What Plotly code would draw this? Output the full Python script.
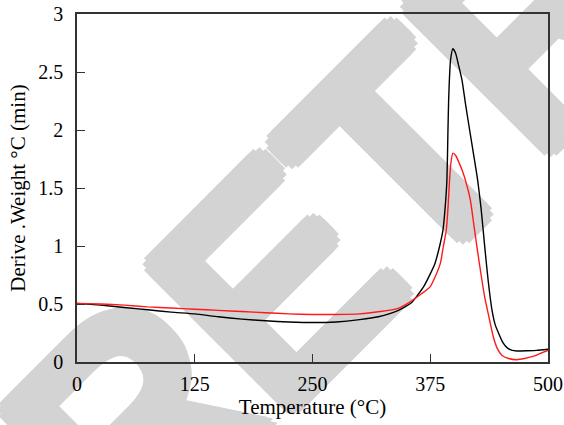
import math
import plotly.graph_objects as go

# Black curve (temperature °C, derivative weight)
t_black = [0, 25, 50, 75, 100, 125, 150, 175, 200, 225, 250, 275, 300, 320, 340, 355, 368, 375, 380, 385,
           388.5, 391, 392.7, 393.8, 394.5, 395.3, 396.5, 399, 402, 405, 408.7, 412.5, 416.8, 421, 425.3,
           429, 433, 436.5, 440.5, 444, 448, 452, 456.5, 462, 467, 478, 488, 500]
v_black = [0.505, 0.49, 0.47, 0.45, 0.43, 0.415, 0.39, 0.37, 0.355, 0.345, 0.34, 0.345, 0.365, 0.39, 0.44,
           0.51, 0.65, 0.76, 0.85, 1.0, 1.136, 1.35, 1.57, 2.0, 2.25, 2.43, 2.6, 2.70, 2.66, 2.56, 2.43,
           2.22, 2.0, 1.79, 1.57, 1.32, 0.98, 0.70, 0.45, 0.32, 0.24, 0.17, 0.124, 0.10, 0.095, 0.097,
           0.10, 0.11]

# Red curve
t_red = [0, 25, 50, 75, 100, 125, 150, 175, 200, 225, 250, 275, 300, 322, 340, 352, 366, 375, 380, 385.7,
         389, 392, 394, 395.5, 397, 399, 402, 406, 409, 412.2, 417.5, 421, 424.6, 429, 433, 437, 442, 446,
         451, 458, 467, 475, 485, 492, 500]
v_red = [0.505, 0.50, 0.49, 0.475, 0.465, 0.455, 0.445, 0.435, 0.425, 0.415, 0.41, 0.41, 0.415, 0.435,
         0.46, 0.51, 0.59, 0.65, 0.73, 0.85, 1.0, 1.136, 1.35, 1.57, 1.72, 1.80, 1.78, 1.71, 1.65, 1.57,
         1.40, 1.20, 0.99, 0.75, 0.55, 0.40, 0.215, 0.12, 0.058, 0.03, 0.02, 0.03, 0.05, 0.075, 0.10]

x_ticks = [0, 125, 250, 375, 500]
y_ticks = [0, 0.5, 1, 1.5, 2, 2.5, 3]
y_tick_text = ["0", "0.5", "1", "1.5", "2", "2.5", "3"]

watermark_text = "RETRACTED"

SERIF = "Liberation Serif"
PW, PH = 471.0, 347.7  # plot area size in px

fig = go.Figure()
fig.add_trace(go.Scatter(x=t_black, y=v_black, mode="lines",
                         line=dict(color="black", width=1.4, shape="spline", smoothing=0.5),
                         showlegend=False))
fig.add_trace(go.Scatter(x=t_red, y=v_red, mode="lines",
                         line=dict(color="#ff1a1a", width=1.4, shape="spline", smoothing=0.5),
                         showlegend=False))

# watermark (heavy letters made by stacking slightly shifted copies)
x0, y0, x1, y1 = 0.1643, -0.6506, 1.2259, 0.7875
R = 12
offsets = [(0, 0)] + [(R * math.cos(a * math.pi / 6), R * math.sin(a * math.pi / 6)) for a in range(12)]
for dx, dy in offsets:
    ox, oy = dx / PW, -dy / PH
    fig.add_shape(type="line", xref="paper", yref="paper",
                  x0=x0 + ox, y0=y0 + oy, x1=x1 + ox, y1=y1 + oy,
                  line=dict(color="rgba(0,0,0,0)", width=0), layer="below",
                  label=dict(text=watermark_text, textposition="start", padding=0,
                             font=dict(family="Liberation Sans", size=285, color="#d3d3d3")))

fig.update_layout(
    width=564, height=425,
    margin=dict(l=76.7, r=16.3, t=14, b=63.3),
    paper_bgcolor="rgba(0,0,0,0)", plot_bgcolor="rgba(0,0,0,0)",
    font=dict(family=SERIF, size=20, color="black"),
)
fig.update_xaxes(range=[0, 500], tickvals=x_ticks, ticks="inside", ticklen=8, tickcolor="#333",
                 showline=True, linecolor="#333", linewidth=1.5, mirror=True, showgrid=False,
                 zeroline=False, ticklabelstandoff=3, automargin=False,
                 title=dict(text="Temperature (°C)", font=dict(size=21), standoff=4))
fig.update_yaxes(range=[0, 3], tickvals=y_ticks, ticktext=y_tick_text, ticks="inside", ticklen=8,
                 tickcolor="#333", showline=True, linecolor="#333", linewidth=1.5, mirror=True,
                 showgrid=False, zeroline=False, ticklabelstandoff=8, automargin=False,
                 title=dict(text="Derive .Weight °C (min)", font=dict(size=21), standoff=7))

fig.write_html("out.html")
